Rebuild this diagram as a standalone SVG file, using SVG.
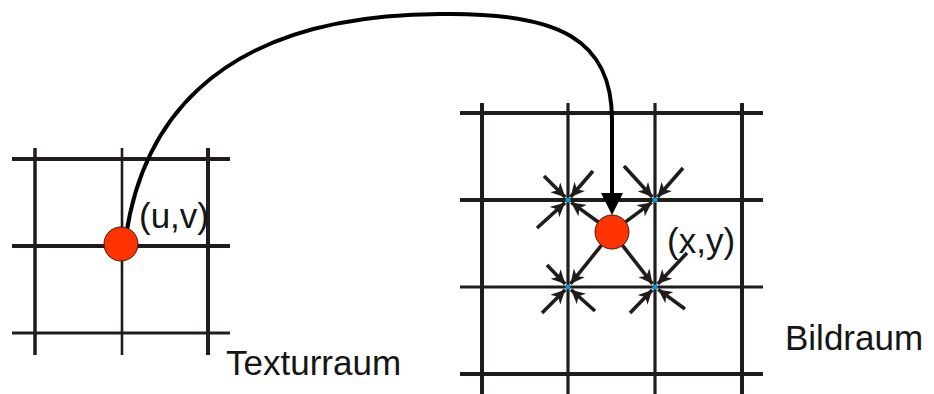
<svg xmlns="http://www.w3.org/2000/svg" width="934" height="394" viewBox="0 0 934 394">
<style>
.g{stroke:#211c1c;fill:none}
.t{font-family:"Liberation Sans",Arial,sans-serif;font-size:35px;fill:#151515}
.a{stroke:#211c1c;stroke-width:3.6;fill:none;marker-end:url(#sa)}
.red{fill:#ff3300;stroke:#3a1a10;stroke-width:1}
.dot{fill:#0a98d8}
</style>
<defs>
<marker id="sa" viewBox="0 0 14 14" refX="14" refY="7" markerWidth="14" markerHeight="14" markerUnits="userSpaceOnUse" orient="auto">
<path d="M0,0 L14,7 L0,14 L4,7 z" fill="#211c1c"/>
</marker>
<marker id="ba" viewBox="0 0 22 22" refX="0" refY="11" markerWidth="22" markerHeight="22" markerUnits="userSpaceOnUse" orient="auto">
<path d="M0,0 L22,11 L0,22 z" fill="#000"/>
</marker>
</defs>
<rect width="934" height="394" fill="#fff"/>
<g id="texture-grid">
<line class="g" x1="12" y1="159" x2="230" y2="159" stroke-width="4"/>
<line class="g" x1="12" y1="246" x2="230" y2="246" stroke-width="4"/>
<line class="g" x1="12" y1="333" x2="230" y2="333" stroke-width="3.2"/>
<line class="g" x1="35" y1="148" x2="35" y2="355" stroke-width="3.5"/>
<line class="g" x1="122" y1="148" x2="122" y2="355" stroke-width="2.6"/>
<line class="g" x1="208" y1="148" x2="208" y2="355" stroke-width="4"/>
</g>
<g id="image-grid">
<line class="g" x1="460" y1="113" x2="763" y2="113" stroke-width="4"/>
<line class="g" x1="460" y1="200" x2="763" y2="200" stroke-width="4"/>
<line class="g" x1="460" y1="287" x2="763" y2="287" stroke-width="3"/>
<line class="g" x1="460" y1="374" x2="763" y2="374" stroke-width="4"/>
<line class="g" x1="482" y1="103" x2="482" y2="394" stroke-width="4"/>
<line class="g" x1="568" y1="103" x2="568" y2="394" stroke-width="3.2"/>
<line class="g" x1="655" y1="103" x2="655" y2="394" stroke-width="3.2"/>
<line class="g" x1="742" y1="103" x2="742" y2="394" stroke-width="4"/>
</g>
<g id="connectors">
<path d="M126,236 C140,140 200,15 440,14 C560,12 612,40 612,120 L612,193" stroke="#000" stroke-width="4" fill="none" marker-end="url(#ba)"/>
<line class="a" x1="544" y1="176" x2="565.2" y2="197.2"/>
<line class="a" x1="593" y1="171" x2="570.6" y2="197"/>
<line class="a" x1="537" y1="228" x2="565" y2="202.7"/>
<line class="a" x1="598.2" y1="222" x2="571.2" y2="202.4"/>
<line class="a" x1="624" y1="166" x2="652.3" y2="197"/>
<line class="a" x1="683" y1="168" x2="657.6" y2="197"/>
<line class="a" x1="625.6" y1="221.9" x2="651.8" y2="202.4"/>
<line class="a" x1="547" y1="265" x2="565.2" y2="284.1"/>
<line class="a" x1="542" y1="313" x2="565.2" y2="289.8"/>
<line class="a" x1="595" y1="311" x2="571" y2="289.7"/>
<line class="a" x1="601.4" y1="245.3" x2="570.5" y2="283.9"/>
<line class="a" x1="687" y1="253" x2="657.7" y2="284.1"/>
<line class="a" x1="630" y1="313" x2="652.2" y2="289.9"/>
<line class="a" x1="685" y1="309" x2="658.2" y2="289.4"/>
<line class="a" x1="622.5" y1="245.4" x2="652.5" y2="283.8"/>
</g>
<g id="texel">
<circle class="red" cx="121" cy="244" r="17"/>
<text class="t" x="139" y="228">(u,v)</text>
</g>
<g id="pixel">
<circle class="red" cx="612" cy="232" r="17"/>
<text class="t" x="667" y="253">(x,y)</text>
</g>
<g id="samples">
<circle class="dot" cx="568" cy="200" r="2.6"/>
<circle class="dot" cx="655" cy="200" r="2.6"/>
<circle class="dot" cx="568" cy="287" r="2.6"/>
<circle class="dot" cx="655" cy="287" r="2.6"/>
</g>
<g id="label-texture"><text class="t" x="226" y="375">Texturraum</text></g>
<g id="label-image"><text class="t" x="785" y="350">Bildraum</text></g>
</svg>
